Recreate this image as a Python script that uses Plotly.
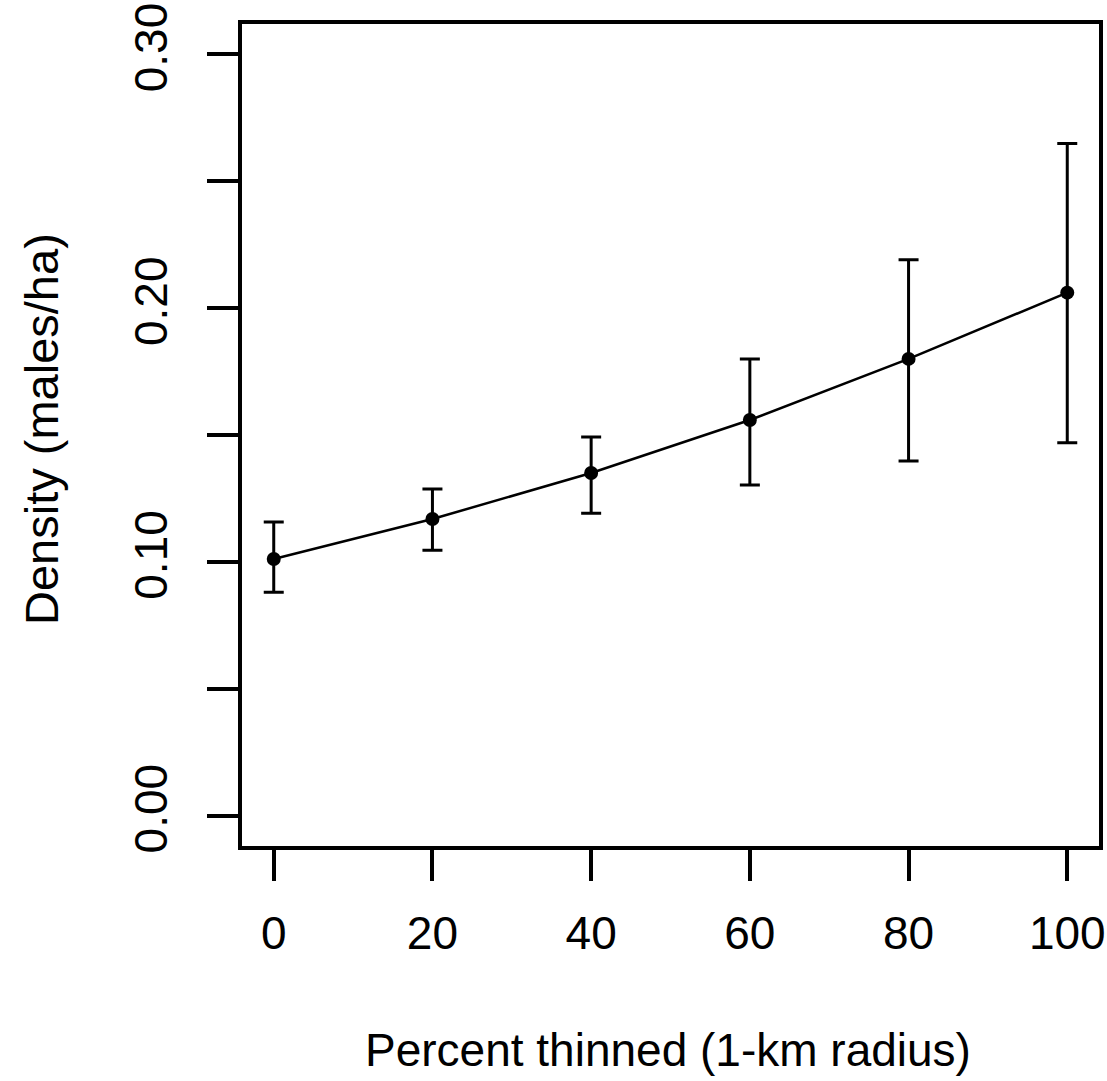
import plotly.graph_objects as go

percent_thinned = [0, 20, 40, 60, 80, 100]
density = [0.1011, 0.1169, 0.1350, 0.1559, 0.1800, 0.2061]
upper = [0.1157, 0.1287, 0.1492, 0.1800, 0.2191, 0.2649]
lower = [0.0880, 0.1046, 0.1192, 0.1303, 0.1398, 0.1469]

x_ticks = [0, 20, 40, 60, 80, 100]
x_tick_labels = ["0", "20", "40", "60", "80", "100"]
y_ticks = [0.00, 0.05, 0.10, 0.15, 0.20, 0.25, 0.30]
y_tick_labels = ["0.00", "", "0.10", "", "0.20", "", "0.30"]

err_plus = [u - d for u, d in zip(upper, density)]
err_minus = [d - l for d, l in zip(density, lower)]

FONT = "Liberation Sans, Arial, sans-serif"

fig = go.Figure()
fig.add_trace(go.Scatter(
    x=percent_thinned, y=density,
    mode="lines+markers",
    line=dict(color="black", width=2.5),
    marker=dict(color="black", size=14),
    error_y=dict(type="data", symmetric=False, array=err_plus, arrayminus=err_minus,
                 color="black", thickness=3, width=10),
    showlegend=False,
))

fig.update_layout(
    width=1107, height=1081,
    margin=dict(l=242, r=8, t=24, b=235),
    paper_bgcolor="white", plot_bgcolor="white",
    font=dict(family=FONT, size=46, color="black"),
    xaxis=dict(
        range=[-4, 104], tickmode="array", tickvals=x_ticks, ticktext=x_tick_labels,
        showgrid=False, zeroline=False, showline=True, mirror=True, automargin=False,
        linecolor="black", linewidth=3.5, ticks="outside", ticklen=31, tickwidth=3.5,
        tickcolor="black", ticklabelstandoff=13, ticklabeloverflow="allow",
        tickfont=dict(family=FONT, size=46, color="black"),
    ),
    yaxis=dict(
        range=[-0.012, 0.312], tickmode="array", tickvals=y_ticks, ticktext=y_tick_labels,
        showgrid=False, zeroline=False, showline=True, mirror=True, automargin=False,
        linecolor="black", linewidth=3.5, ticks="outside", ticklen=31, tickwidth=3.5,
        tickcolor="black", tickangle=-90, ticklabelstandoff=22, ticklabeloverflow="allow",
        tickfont=dict(family=FONT, size=46, color="black"),
    ),
    annotations=[
        dict(text="Percent thinned (1-km radius)", xref="paper", yref="paper",
             x=(668 - 242) / 857, y=-(1050 - 846) / 822, showarrow=False,
             xanchor="center", yanchor="middle",
             font=dict(family=FONT, size=46, color="black")),
        dict(text="Density (males/ha)", xref="paper", yref="paper",
             x=(41 - 242) / 857, y=(846 - 429) / 822, showarrow=False, textangle=-90,
             xanchor="center", yanchor="middle",
             font=dict(family=FONT, size=47, color="black")),
    ],
)

fig.write_html(
    "out.html",
    config={"displayModeBar": False},
    post_script="document.body.style.margin='0';document.body.style.overflow='hidden';",
)
